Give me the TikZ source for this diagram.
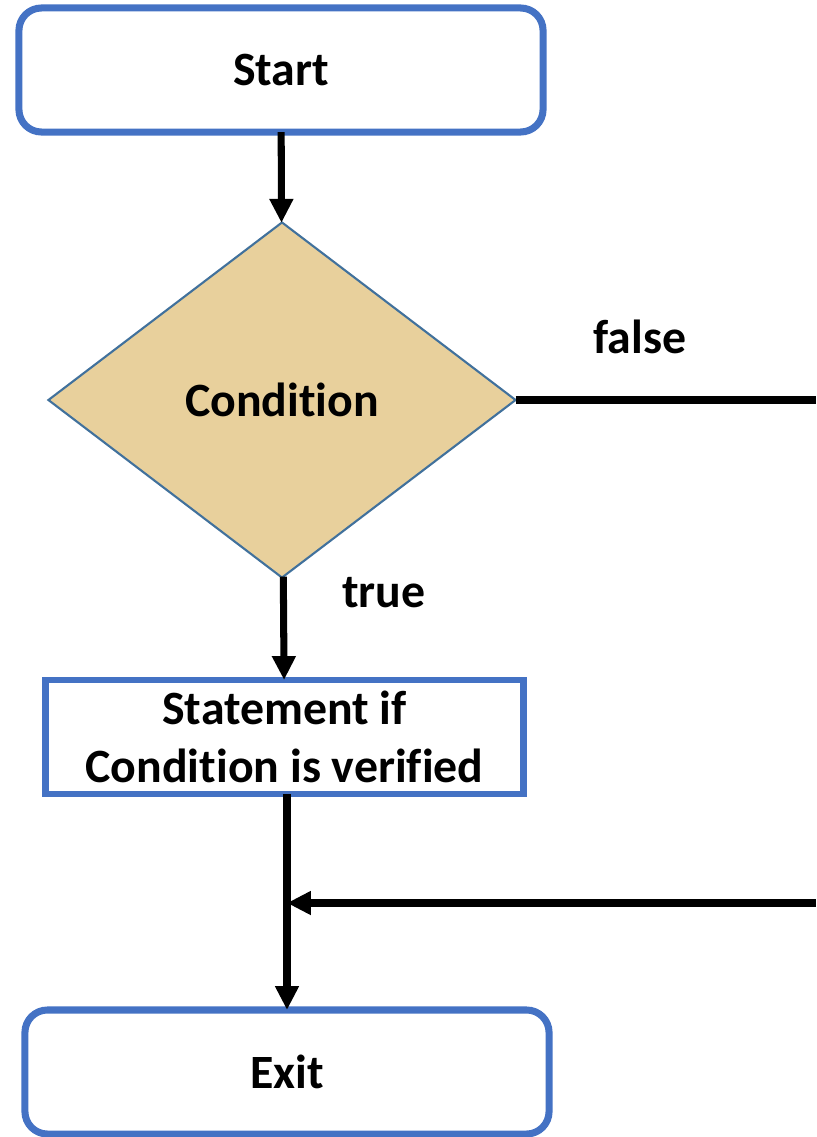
\documentclass[tikz,border=0pt]{standalone}
\usepackage{fontspec}
\setmainfont[Ligatures=NoCommon]{Carlito}
\usetikzlibrary{arrows.meta,positioning,shapes.geometric}
\definecolor{boxblue}{HTML}{4472C4}
\definecolor{diamondedge}{HTML}{41719C}
\definecolor{papyrus}{HTML}{E8D09C}

\begin{document}
\begin{tikzpicture}[
    x=0.025cm, y=-0.025cm,
    every node/.style={font=\fontsize{34}{41}\selectfont\bfseries, inner sep=0pt, outer sep=0pt},
    terminal/.style={draw=boxblue, line width=5pt, rounded corners=16pt, fill=white, minimum width=13.1cm, minimum height=3.1cm},
    process/.style={draw=boxblue, line width=4.5pt, fill=white, minimum width=11.95cm, minimum height=2.85cm, align=center},
    decision/.style={diamond, draw=diamondedge, line width=1.5pt, fill=papyrus, minimum width=11.675cm, minimum height=8.875cm},
    flow/.style={-{Triangle[length=17pt,width=16pt]}, line width=5pt},
    plain/.style={line width=5.5pt}
]
\useasboundingbox (0,0) rectangle (816,1137);

% Start and decision
\node[terminal] (start) at (281,70) {Start};
\node[decision] (cond) at (282,400) {Condition};

% Statement and exit
\node[process] (stmt) at (284.5,737) {Statement if\\Condition is verified};
\node[terminal] (exit) at (287,1072) {Exit};

% Free ends at the right border
\coordinate (falseout) at (816,400);
\coordinate (falsein) at (816,903);
\coordinate (join) at (287,903);

% Connectors
\draw[flow] (start) -- (cond);
\draw[flow] (cond) -- (stmt);
\draw[plain] (cond.east) -- (falseout);
\draw[flow] (stmt.south -| join) -- (exit);
\draw[flow] (falsein) -- (join);

% Branch labels
\node (falselbl) at (640,337) {false};
\node (truelbl) at (384,593) {true};

\end{tikzpicture}
\end{document}
